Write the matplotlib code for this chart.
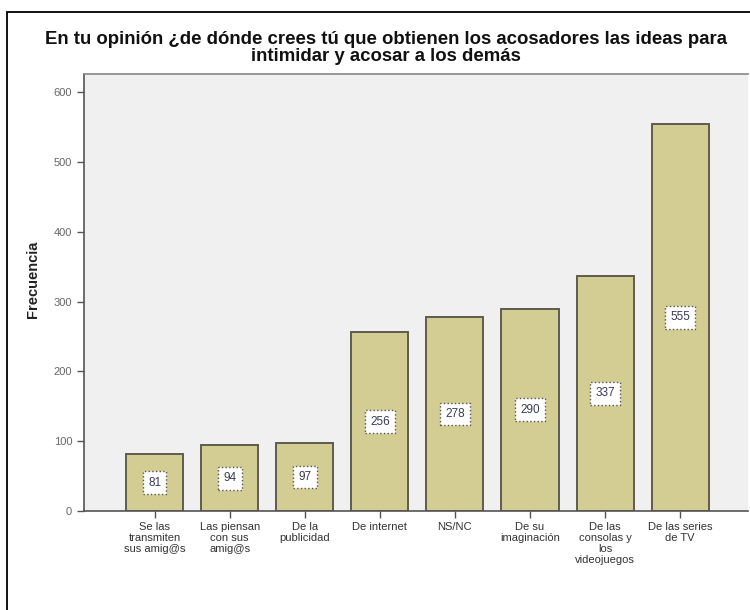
import matplotlib
matplotlib.use("Agg")
import matplotlib.pyplot as plt
from matplotlib.patches import Rectangle

plt.rcParams['font.family'] = ['Liberation Sans', 'DejaVu Sans']

categories = [
    "Se las\ntransmiten\nsus amig@s",
    "Las piensan\ncon sus\namig@s",
    "De la\npublicidad",
    "De internet",
    "NS/NC",
    "De su\nimaginación",
    "De las\nconsolas y\nlos\nvideojuegos",
    "De las series\nde TV",
]
frecuencias = [81, 94, 97, 256, 278, 290, 337, 555]
yticks = [0, 100, 200, 300, 400, 500, 600]

title = ("En tu opinión ¿de dónde crees tú que obtienen los acosadores las ideas para\n"
         "intimidar y acosar a los demás")

fig = plt.figure(figsize=(7.5, 6.1), dpi=100)
fig.patch.set_facecolor('white')
ax = fig.add_axes([84/750, 1 - 511/610, 1 - 84/750 - 0.003, (511 - 74)/610])
ax.set_facecolor('#f0f0f0')

x = list(range(len(categories)))
bars = ax.bar(x, frecuencias, width=0.76, color='#d3cd94', edgecolor='#5e5c4c', linewidth=1.4)

for xi, v in zip(x, frecuencias):
    ax.text(xi, v / 2, str(v), ha='center', va='center', fontsize=8.5, color='#3a3a5a',
            bbox=dict(boxstyle='square,pad=0.45', fc='white', ec='#555555', lw=1.0, ls=':'))

ax.set_xlim(-0.94, 7.9)
ax.set_ylim(0, 626)
ax.set_yticks(yticks)
ax.set_xticks(x)
ax.set_xticklabels(categories, fontsize=8, color='#333333', linespacing=1.12)
ax.tick_params(axis='y', length=5, color='#555555', labelcolor='#666666', labelsize=8, width=1)
ax.tick_params(axis='x', length=5, color='#555555', width=1, pad=3)

for s in ['left', 'bottom']:
    ax.spines[s].set_color('#555555')
    ax.spines[s].set_linewidth(1.2)
ax.spines['top'].set_color('#888888')
ax.spines['top'].set_linewidth(1.2)
ax.spines['right'].set_visible(False)

ax.set_ylabel('Frecuencia', fontsize=10.5, fontweight='bold', color='#222222')
ax.yaxis.set_label_coords(-0.066, 0.53)

fig.text(386/750, 1 - 48/610, title, ha='center', va='center', fontsize=13.4,
         fontweight='bold', color='#111111', linespacing=1.0)

# outer frame around the chart
fig.patches.append(Rectangle((7/750, -0.2), 1.5, 0.2 + (1 - 12/610), transform=fig.transFigure,
                             fill=False, ec='black', lw=1.3, clip_on=False))

fig.savefig('out.png', dpi=100, facecolor='white')
